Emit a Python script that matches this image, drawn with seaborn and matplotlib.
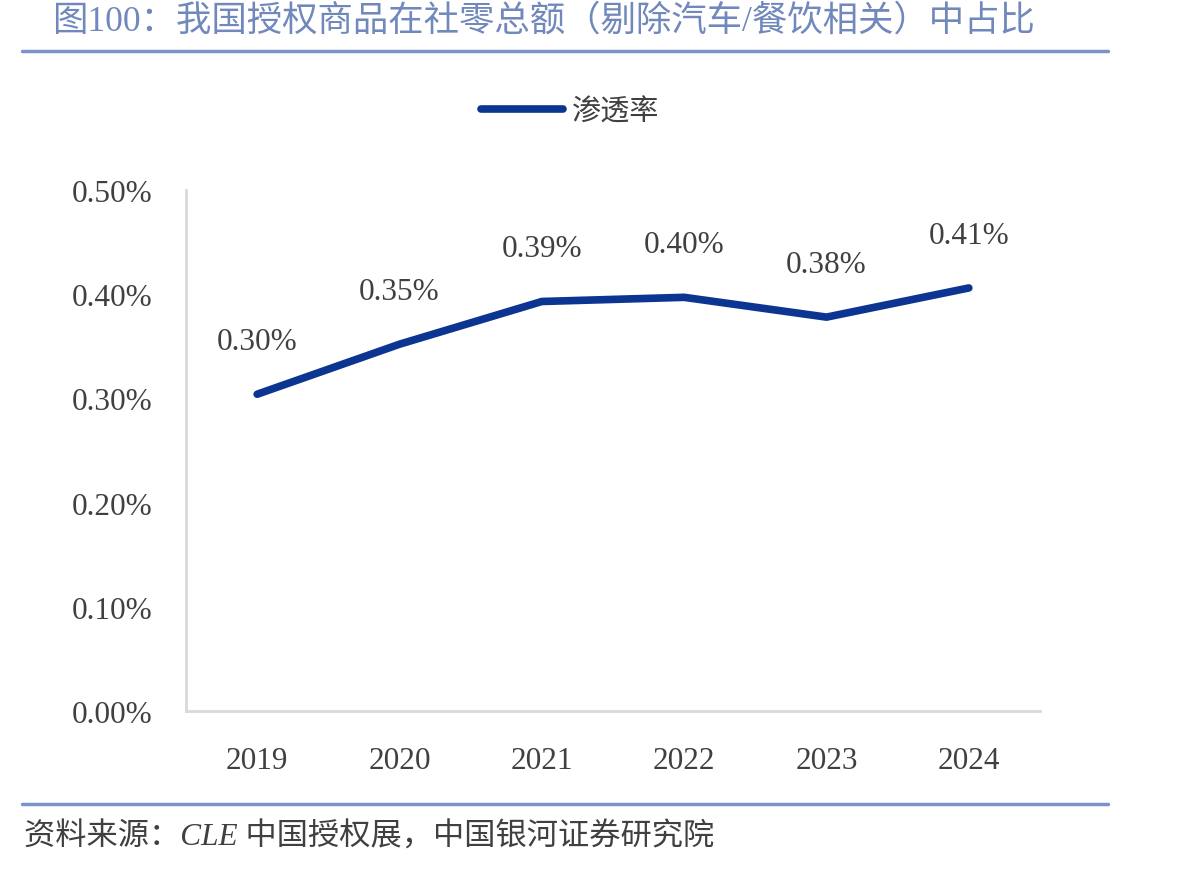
import matplotlib
matplotlib.use("Agg")
import matplotlib.pyplot as plt
import seaborn as sns
import pandas as pd

years = ["2019", "2020", "2021", "2022", "2023", "2024"]
rates = [0.304, 0.352, 0.393, 0.397, 0.378, 0.406]
labels = ["0.30%", "0.35%", "0.39%", "0.40%", "0.38%", "0.41%"]
yticks = [0.0, 0.1, 0.2, 0.3, 0.4, 0.5]
series_name = "渗透率"
title = "图100：我国授权商品在社零总额（剔除汽车/餐饮相关）中占比"
source = "资料来源：CLE 中国授权展，中国银河证券研究院"

sns.set_theme(style="white")
plt.rcParams["font.family"] = ["Liberation Serif", "Noto Sans CJK SC", "DejaVu Sans"]

line_color = "#0c3591"
text_color = "#404040"
title_color = "#7088bb"
rule_color = "#7b93c6"

fig = plt.figure(figsize=(11.77, 8.70), dpi=100)
ax = fig.add_axes([186/1177, 1-712/870, (1040-186)/1177, (712-191)/870])

df = pd.DataFrame({"year": years, "rate": rates})
sns.lineplot(data=df, x="year", y="rate", ax=ax, color=line_color, linewidth=5.5,
             solid_capstyle="round", label=series_name, sort=False)

ax.set_xlim(-0.5, len(years) - 0.5)
ax.set_ylim(0, 0.5)
ax.set_yticks(yticks)
ax.set_yticklabels([f"{v:.2f}%" for v in yticks])
ax.set_xlabel("")
ax.set_ylabel("")
ax.tick_params(axis="both", colors=text_color, labelsize=22.5, length=0)
ax.tick_params(axis="y", pad=24)
ax.tick_params(axis="x", pad=25)
for side in ["top", "right"]:
    ax.spines[side].set_visible(False)
for side in ["left", "bottom"]:
    ax.spines[side].set_color("#d9d9d9")
    ax.spines[side].set_linewidth(2)
ax.grid(False)

for i, (v, lab) in enumerate(zip(rates, labels)):
    ax.annotate(lab, (i, v), xytext=(0, 38), textcoords="offset points",
                ha="center", va="center", fontsize=22.5, color=text_color)

leg = ax.legend(loc="center", bbox_to_anchor=(570/1177, 1-113/870),
                bbox_transform=fig.transFigure, frameon=False, fontsize=21,
                handlelength=2.8, handletextpad=0.3)
for t in leg.get_texts():
    t.set_color(text_color)

fig.text(52/1177, 1-22/870, title, fontsize=25.5, color=title_color, ha="left", va="center")
fig.add_artist(plt.Line2D([22/1177, 1108/1177], [1-52/870, 1-52/870], color=rule_color, linewidth=2.5,
                          transform=fig.transFigure))
fig.add_artist(plt.Line2D([22/1177, 1108/1177], [1-805/870, 1-805/870], color=rule_color, linewidth=2.5,
                          transform=fig.transFigure))
fig.text(24/1177, 1-838/870, source, fontsize=22.5, color=text_color, ha="left", va="center", style="italic")

fig.savefig("out.png", dpi=100)
